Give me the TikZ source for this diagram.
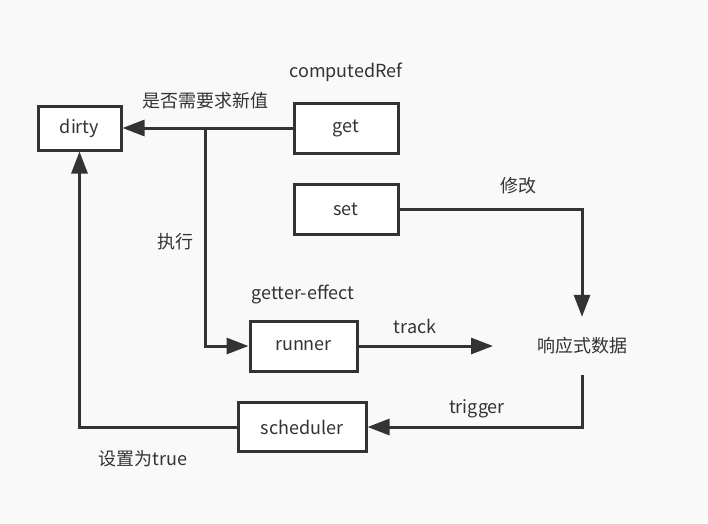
\documentclass[tikz,border=0pt]{standalone}
\usepackage{fontspec}
\setmainfont{Noto Sans CJK SC}
\usetikzlibrary{arrows.meta,positioning}
\definecolor{bgcol}{RGB}{249,249,249}
\definecolor{ink}{RGB}{51,51,51}
\tikzset{
    box/.style={draw=ink, fill=white, line width=3pt, font=\fontsize{18}{20}\selectfont, text=ink},
    lbl/.style={font=\fontsize{18}{20}\selectfont, text=ink},
    arr/.style={draw=ink, line width=3pt, -{Triangle[length=22pt,width=16pt]}},
    wire/.style={draw=ink, line width=3pt}
}
\begin{document}
\begin{tikzpicture}[x=1pt, y=-1pt]
        \fill [bgcol] (0,0) rectangle (708,523);
        \useasboundingbox (0,0) rectangle (708,523);
        \node [box, minimum width=83pt, minimum height=44pt] (dirty) at (79.5,128) {dirty};
        \node [box, minimum width=104pt, minimum height=50pt] (get) at (346,128) {get};
        \node [box, minimum width=104pt, minimum height=50pt] (set) at (346,209) {set};
        \node [box, minimum width=107pt, minimum height=50pt] (runner) at (303.5,346) {runner};
        \node [box, minimum width=128pt, minimum height=49pt] (scheduler) at (302,427) {scheduler};
        \node [lbl, minimum height=58pt] (data) at (582,346) {响应式数据};
        \node [lbl] (computedref) at (346,72) {computedRef};
        \node [lbl] (ask) at (205,101) {是否需要求新值};
        \node [lbl] (exec) at (175,242) {执行};
        \node [lbl] (modify) at (518,186) {修改};
        \node [lbl] (gettereffect) at (303,294) {getter-effect};
        \node [lbl] (track) at (415,326) {track};
        \node [lbl] (trigger) at (477,409) {trigger};
        \node [lbl] (settrue) at (143,459) {设置为true};
        \coordinate (split) at (205,128);
        \coordinate (trackend) at (493,346);
        % get -> dirty, and the branch to runner
        \draw [arr] (get.west) -- (dirty.east);
        \draw [arr] (split) |- (runner.west);
        \draw [arr] (set.east) -| (data.north);
        \draw [arr] (runner.east) -- (trackend);
        \draw [arr] (data.south) |- (scheduler.east);
        \draw [arr] (scheduler.west) -| (dirty.south);
    \end{tikzpicture}
\end{document}
